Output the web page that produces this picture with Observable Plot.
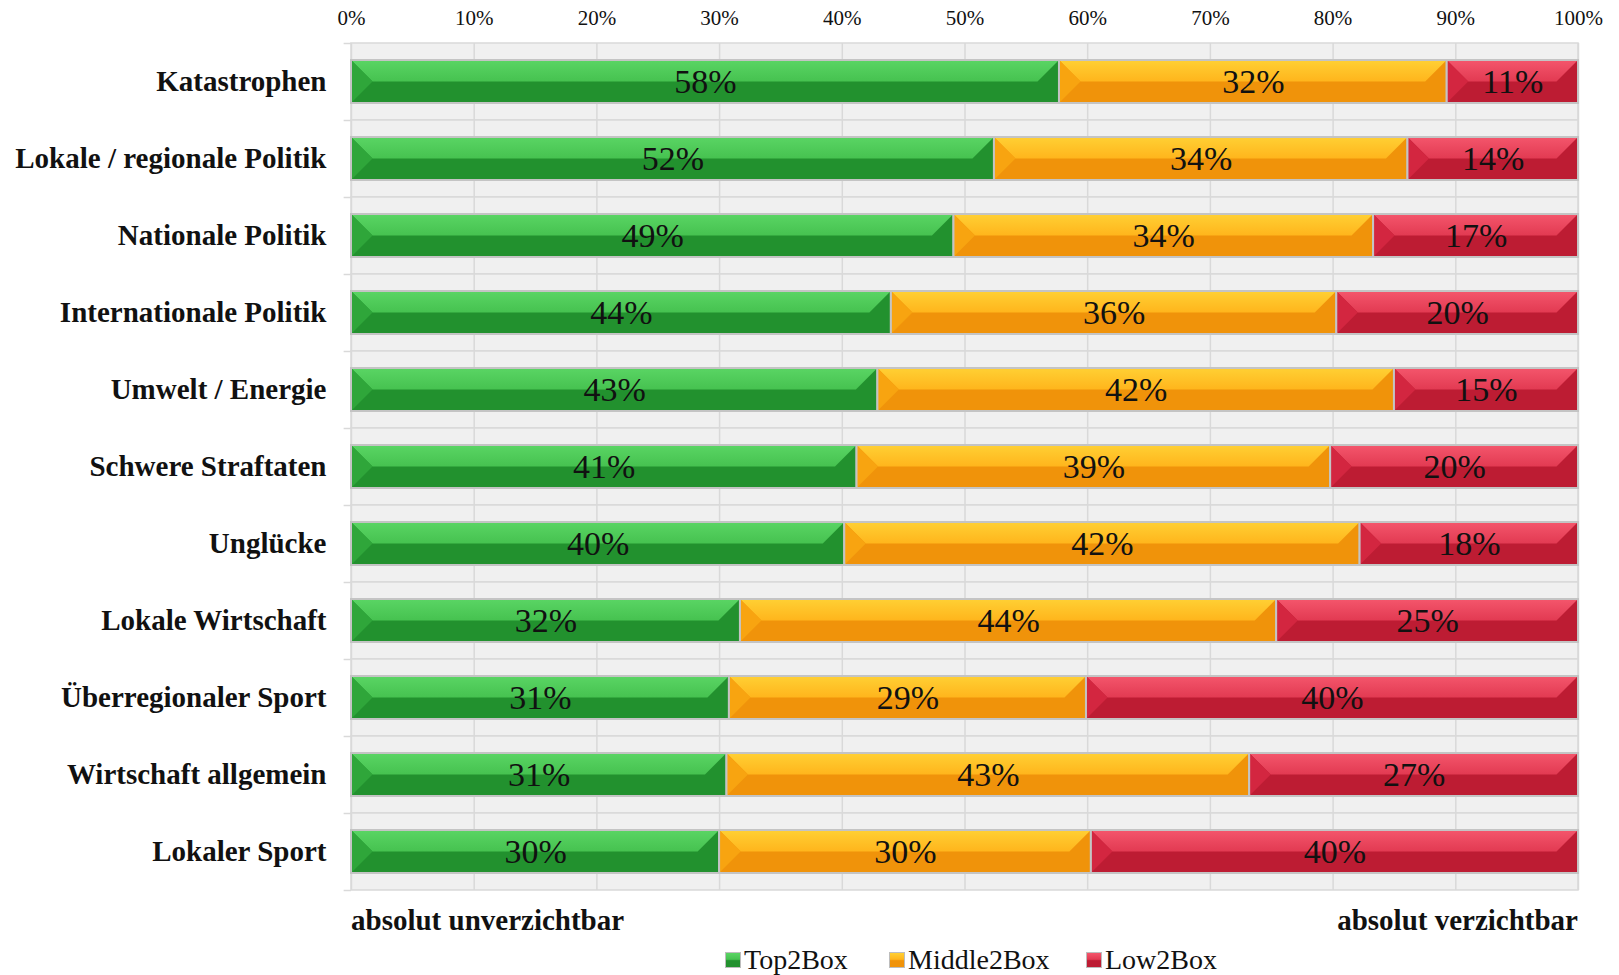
<!DOCTYPE html>
<html><head><meta charset="utf-8">
<script src="https://cdn.jsdelivr.net/npm/d3@7"></script>
<script src="https://cdn.jsdelivr.net/npm/@observablehq/plot@0.6"></script>
<style>
body{margin:0;background:#fff;font-family:"Liberation Serif",serif;}
#wrap{position:relative;width:1619px;height:975px;overflow:hidden;}
#foot{position:relative;width:1619px;height:75px;}
.end{position:absolute;top:4px;font-weight:bold;font-size:29px;line-height:32px;color:#111;}
.leg{position:absolute;top:44px;display:flex;align-items:center;font-size:28px;line-height:32px;color:#111;}
.sw{width:16px;height:16px;border:1.5px solid #bdbdbd;margin-right:3px;box-sizing:border-box;}
</style></head><body>
<div id="wrap"><div id="chart"></div><div id="foot"></div></div>
<script>
const categories = ["Katastrophen","Lokale / regionale Politik","Nationale Politik","Internationale Politik","Umwelt / Energie","Schwere Straftaten","Unglücke","Lokale Wirtschaft","Überregionaler Sport","Wirtschaft allgemein","Lokaler Sport"];
const series = ["Top2Box","Middle2Box","Low2Box"];
const top2Box = [57.7,52.4,49.1,44.0,42.9,41.2,40.2,31.7,30.8,30.6,30.0];
const middle2Box = [31.6,33.7,34.2,36.3,42.1,38.6,42.0,43.7,29.1,42.6,30.3];
const low2Box = [10.7,13.9,16.7,19.7,15.0,20.2,17.8,24.6,40.1,26.8,39.7];
const xTicks = [0,10,20,30,40,50,60,70,80,90,100];
const endLabels = ["absolut unverzichtbar","absolut verzichtbar"];

const baseCol = ["#22912e","#f0930a","#bd1c33"];
const lightTop = ["#5ad564","#ffd034","#f4566c"];
const lightMid = ["#46c250","#ffb51c","#e23a52"];
const sideCol = ["#2fa63a","#f8a410","#d32640"];

const values = [top2Box, middle2Box, low2Box];
const data = [];
categories.forEach((c, i) => series.forEach((s, j) => data.push({cat: c, series: s, value: values[j][i]})));

const W = 1619, H = 900, mT = 43, mB = 10, mL = 351, mR = 41;
const step = (H - mT - mB) / categories.length;
const grid = "#d9d9d9";

const chart = Plot.plot({
  width: W, height: H, marginTop: mT, marginBottom: mB, marginLeft: mL, marginRight: mR,
  style: {fontFamily: "'Liberation Serif', serif", background: "#fff", color: "#111"},
  x: {domain: [0, 100]},
  y: {domain: categories, padding: 0},
  color: {domain: series, range: baseCol},
  marks: [
    Plot.barX(categories, {x1: 0, x2: 100, y: d => d, fill: "#f0f0f0", stroke: grid, strokeWidth: 1.5}),
    Plot.ruleX(xTicks, {stroke: grid, strokeWidth: 1.5}),
    Plot.ruleY(categories, {y: d => d, x1: -0.6, x2: 0, dy: -step / 2, stroke: grid, strokeWidth: 1.5}),
    Plot.ruleY(categories.slice(-1), {y: d => d, x1: -0.6, x2: 0, dy: step / 2, stroke: grid, strokeWidth: 1.5}),
    Plot.barX(data, Plot.stackX({x: "value", y: "cat", fill: "series", z: "series", insetTop: 17, insetBottom: 17})),
    Plot.text(data, Plot.stackX({x: "value", y: "cat", z: "series", text: d => Math.round(d.value) + "%", fontSize: 34, fill: "#111"})),
    Plot.axisX({anchor: "top", ticks: xTicks, tickFormat: d => d + "%", tickSize: 0, tickPadding: 19, fontSize: 21, label: null}),
    Plot.axisY({tickSize: 0, tickPadding: 25, fontSize: 29, fontWeight: "bold", label: null})
  ]
});
document.getElementById("chart").appendChild(chart);

// bevel overlays on each stacked segment
const NS = "http://www.w3.org/2000/svg";
const svg = chart.tagName.toLowerCase() === "svg" ? chart : chart.querySelector("svg");
const defs = document.createElementNS(NS, "defs");
svg.insertBefore(defs, svg.firstChild);
series.forEach((s, j) => {
  const g = document.createElementNS(NS, "linearGradient");
  g.setAttribute("id", "lg" + j); g.setAttribute("x1", 0); g.setAttribute("x2", 0); g.setAttribute("y1", 0); g.setAttribute("y2", 1);
  [[0, lightTop[j]], [1, lightMid[j]]].forEach(([o, c]) => {
    const st = document.createElementNS(NS, "stop"); st.setAttribute("offset", o); st.setAttribute("stop-color", c); g.appendChild(st);
  });
  defs.appendChild(g);
});
const rects = Array.from(svg.querySelectorAll("rect")).filter(r => baseCol.includes((r.getAttribute("fill") || "").toLowerCase()));
rects.forEach(r => {
  const segG = r.parentNode;
  const j = baseCol.indexOf(r.getAttribute("fill").toLowerCase());
  const x = +r.getAttribute("x"), y = +r.getAttribute("y"), w = +r.getAttribute("width"), h = +r.getAttribute("height");
  const b = Math.min(h / 2, w / 2);
  const poly = (pts, f) => { const p = document.createElementNS(NS, "polygon"); p.setAttribute("points", pts.map(q => q.join(",")).join(" ")); p.setAttribute("fill", f); segG.appendChild(p); };
  poly([[x, y], [x + w, y], [x + w - b, y + h / 2], [x + b, y + h / 2]], "url(#lg" + j + ")");
  poly([[x, y], [x + b, y + h / 2], [x, y + h]], sideCol[j]);
  const o = document.createElementNS(NS, "rect");
  o.setAttribute("x", x); o.setAttribute("y", y); o.setAttribute("width", w); o.setAttribute("height", h);
  o.setAttribute("fill", "none"); o.setAttribute("stroke", "#c4c4c4"); o.setAttribute("stroke-width", 2);
  segG.appendChild(o);
});

// footer: end labels and legend
const foot = document.getElementById("foot");
const l1 = document.createElement("div"); l1.className = "end"; l1.style.left = mL + "px"; l1.textContent = endLabels[0]; foot.appendChild(l1);
const l2 = document.createElement("div"); l2.className = "end"; l2.style.right = mR + "px"; l2.textContent = endLabels[1]; foot.appendChild(l2);
const legX = [725, 889, 1086];
series.forEach((s, j) => {
  const it = document.createElement("div"); it.className = "leg"; it.style.left = legX[j] + "px";
  const sw = document.createElement("div"); sw.className = "sw";
  sw.style.background = `linear-gradient(${lightTop[j]} 0%, ${lightMid[j]} 45%, ${baseCol[j]} 55%, ${baseCol[j]} 100%)`;
  it.appendChild(sw);
  const t = document.createElement("span"); t.textContent = s; it.appendChild(t);
  foot.appendChild(it);
});
</script>
</body></html>
